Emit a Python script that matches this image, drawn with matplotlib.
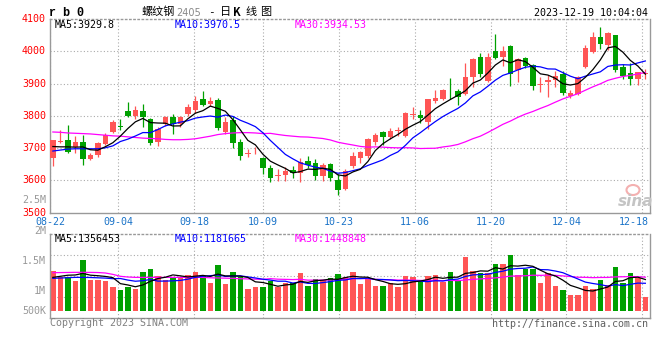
import numpy as np
import pandas as pd
import matplotlib
matplotlib.use("Agg")
import matplotlib.pyplot as plt
from matplotlib.patches import Ellipse

# ---------------- data ----------------
tick_labels = ["08-22", "09-04", "09-18", "10-09", "10-23", "11-06", "11-20", "12-04", "12-18"]
tick_index = [0, 9, 19, 28, 38, 48, 58, 68, 78]

opens = [3670, 3720, 3724, 3703, 3719, 3665, 3680, 3713, 3751, 3770,
         3814, 3798, 3816, 3790, 3720, 3776, 3795, 3776, 3807, 3819,
         3852, 3836, 3849, 3751, 3786, 3718, 3682, 3690, 3670, 3640,
         3615, 3617, 3632, 3622, 3660, 3653, 3614, 3650, 3602, 3573,
         3645, 3670, 3676, 3718, 3749, 3734, 3753, 3739, 3802, 3803,
         3780, 3846, 3851, 3875, 3877, 3867, 3919, 3982, 3909, 4000,
         3982, 4017, 3941, 3978, 3957, 3897, 3904, 3911, 3931, 3861,
         3867, 3952, 3998, 4043, 4019, 4049, 3952, 3932, 3915, 3930]
highs = [3726, 3756, 3771, 3737, 3742, 3684, 3720, 3747, 3786, 3790,
         3842, 3829, 3838, 3792, 3764, 3800, 3807, 3799, 3836, 3862,
         3878, 3857, 3854, 3795, 3800, 3727, 3696, 3703, 3672, 3647,
         3635, 3643, 3645, 3670, 3676, 3665, 3655, 3655, 3619, 3635,
         3688, 3691, 3732, 3747, 3752, 3762, 3767, 3813, 3828, 3818,
         3853, 3879, 3884, 3917, 3884, 3965, 3980, 3995, 3995, 4053,
         4015, 4020, 3978, 3982, 3962, 3919, 3927, 3939, 3939, 3881,
         3924, 4021, 4059, 4076, 4060, 4050, 3960, 3965, 3936, 3944]
lows = [3644, 3716, 3686, 3686, 3647, 3662, 3673, 3711, 3747, 3755,
        3796, 3790, 3766, 3709, 3706, 3770, 3745, 3764, 3800, 3810,
        3831, 3831, 3755, 3743, 3701, 3663, 3672, 3681, 3619, 3596,
        3597, 3599, 3609, 3594, 3640, 3602, 3599, 3599, 3555, 3571,
        3640, 3655, 3670, 3711, 3711, 3727, 3737, 3733, 3790, 3778,
        3758, 3840, 3848, 3851, 3833, 3864, 3890, 3919, 3905, 3977,
        3955, 3894, 3904, 3948, 3881, 3874, 3859, 3889, 3864, 3854,
        3864, 3948, 3995, 4006, 4005, 3935, 3915, 3895, 3895, 3914]
closes = [3724, 3723, 3688, 3719, 3665, 3680, 3716, 3742, 3781, 3767,
          3798, 3819, 3795, 3717, 3760, 3795, 3776, 3797, 3826, 3847,
          3834, 3847, 3761, 3782, 3717, 3676, 3684, 3692, 3637, 3609,
          3618, 3630, 3623, 3657, 3647, 3614, 3647, 3607, 3571, 3630,
          3676, 3688, 3727, 3742, 3735, 3752, 3755, 3808, 3805, 3792,
          3851, 3856, 3881, 3873, 3857, 3921, 3975, 3929, 3982, 3980,
          4000, 3931, 3975, 3955, 3891, 3899, 3912, 3924, 3871, 3871,
          3921, 4010, 4043, 4022, 4058, 3942, 3922, 3915, 3935, 3932]
volumes = [1328000, 1222000, 1222000, 1161000, 1511000, 1178000, 1178000, 1161000, 1061000, 1011000,
           1067000, 1028000, 1311000, 1361000, 1244000, 1178000, 1222000, 1233000, 1267000, 1311000,
           1244000, 1133000, 1428000, 1117000, 1311000, 1222000, 1028000, 1061000, 1061000, 1161000,
           1061000, 1133000, 1122000, 1300000, 1078000, 1200000, 1178000, 1211000, 1278000, 1228000,
           1311000, 1111000, 1194000, 1078000, 1078000, 1122000, 1061000, 1244000, 1228000, 1150000,
           1244000, 1261000, 1150000, 1311000, 1161000, 1561000, 1328000, 1289000, 1289000, 1450000,
           1450000, 1600000, 1261000, 1361000, 1361000, 1128000, 1300000, 1078000, 1011000, 928000,
           928000, 1078000, 1028000, 1178000, 1094000, 1394000, 1133000, 1294000, 1211000, 900000]

# moving-average values at the start of the window (history before 08-22 is not shown)
ma5_head = [3705, 3704, 3704, 3703]
ma10_head = [3691, 3694, 3697, 3698, 3698, 3698, 3698, 3701, 3707]
ma30_head = [3750, 3749, 3747, 3746, 3745, 3744, 3742, 3740, 3738, 3737,
             3735, 3733, 3731, 3730, 3729, 3727, 3726, 3726, 3727, 3729,
             3733, 3737, 3742, 3745, 3747, 3748, 3748, 3747, 3745]
vma5_head = [1222000, 1240000, 1258000, 1262000]
vma10_head = [1206000, 1211000, 1217000, 1222000, 1222000, 1220000, 1215000, 1210000, 1200000]
vma30_head = [1300000, 1302000, 1304000, 1306000, 1306000, 1305000, 1303000, 1295000, 1272000, 1240000,
              1228000, 1222000, 1222000, 1222000, 1222000, 1222000, 1222000, 1222000, 1222000, 1222000,
              1222000, 1215000, 1212000, 1209000, 1206000, 1200000, 1196000, 1192000, 1189000]

price_ticks = [3500, 3600, 3700, 3800, 3900, 4000, 4100]
price_grid = [3600, 3700, 3800, 3900, 4000]
vol_labels = ["2M", "1.5M", "1M", "500K"]
vol_label_values = [2000000, 1500000, 1000000, 667000]

ma_price_labels = ["MA5:3929.8", "MA10:3970.5", "MA30:3934.53"]
ma_vol_labels = ["MA5:1356453", "MA10:1181665", "MA30:1448848"]
title_time = "2023-12-19 10:04:04"

# ---------------- helpers ----------------
def with_head(values, n, head):
    s = pd.Series(values, dtype=float).rolling(n).mean()
    s.iloc[:len(head)] = head
    return s.values

o = np.array(opens, float); h = np.array(highs, float)
l = np.array(lows, float); c = np.array(closes, float)
v = np.array(volumes, float)
N = len(c)
idx = np.arange(N)
BW = 0.76
xc = idx + BW / 2

RED = "#FF5555"
GREEN = "#00A000"
GRID = "#aaaaaa"
SPINE = "#999999"
MONO = "DejaVu Sans Mono"
up = c >= o
cols = np.where(up, RED, GREEN)

W, H = 660, 360
def fx(x): return x / W
def fy(y): return 1 - y / H

fig = plt.figure(figsize=(6.6, 3.6), dpi=100)
fig.patch.set_facecolor("white")
ax = fig.add_axes([fx(50), fy(212.7), 600 / W, (212.7 - 19) / H])
ax2 = fig.add_axes([fx(50), fy(318.3), 600 / W, (318.3 - 234.3) / H])

grid_x = np.array(tick_index) * N / (N - 1)
dots = (0, (1, 2))

for a in (ax, ax2):
    a.set_xlim(0, N)
    a.set_xticks(grid_x)
    a.tick_params(length=0, labelleft=False, labelbottom=False)
    for sp in a.spines.values():
        sp.set_color(SPINE)
        sp.set_linewidth(1)
    a.spines["top"].set_linestyle(dots)
    a.set_axisbelow(True)

# ---- price panel ----
ax.set_ylim(3500, 4100)
ax.set_yticks(price_grid)
ax.grid(True, linestyle=dots, color=GRID, linewidth=0.8)

ax.vlines(xc, l, h, colors=cols, linewidth=0.9, zorder=2)
body_h = np.abs(c - o)
mid = (c + o) / 2
bh = np.maximum(body_h, 2.8)
ax.bar(idx, bh, bottom=mid - bh / 2, width=BW, align="edge", color=cols, linewidth=0, zorder=3)

ma5 = with_head(closes, 5, ma5_head)
ma10 = with_head(closes, 10, ma10_head)
ma30 = with_head(closes, 30, ma30_head)
ax.plot(xc, ma30, color="#FF00FF", lw=0.9, zorder=4)
ax.plot(xc, ma10, color="#0000FF", lw=0.9, zorder=5)
ax.plot(xc, ma5, color="black", lw=0.9, zorder=6)

for val in price_ticks:
    ax.text(-4 / 600, val, str(val), transform=ax.get_yaxis_transform(), ha="right", va="center",
            color="#FF0000", fontsize=7.2, family=MONO, clip_on=False)
ax.text(-4 / 600, 0.066, "2.5M", transform=ax.transAxes, ha="right", va="center",
        color="#999999", fontsize=7.2, family=MONO)

# ---- volume panel ----
ax2.set_ylim(540000, 1940000)
ax2.set_yticks([])
for f in (0.25, 0.5, 0.75):
    ax2.axhline(540000 + f * 1400000, color=GRID, linestyle=dots, linewidth=0.8, zorder=0)
ax2.grid(True, axis="x", linestyle=dots, color=GRID, linewidth=0.8)
VOL_BASE = 667000
ax2.bar(idx, v - VOL_BASE, bottom=VOL_BASE, width=BW, align="edge", color=cols, linewidth=0, zorder=2)
vma5 = with_head(volumes, 5, vma5_head)
vma10 = with_head(volumes, 10, vma10_head)
vma30 = with_head(volumes, 30, vma30_head)
ax2.plot(xc, vma30, color="#FF00FF", lw=0.9, zorder=4)
ax2.plot(xc, vma10, color="#0000FF", lw=0.9, zorder=5)
ax2.plot(xc, vma5, color="black", lw=0.9, zorder=6)
for lab, val in zip(vol_labels, vol_label_values):
    ax2.text(-4 / 600, val, lab, transform=ax2.get_yaxis_transform(), ha="right", va="center",
             color="#999999", fontsize=7.2, family=MONO, clip_on=False)

# ---- date labels ----
for k, (gx, lab) in enumerate(zip(grid_x, tick_labels)):
    px = 50 + gx * 600 / N
    if k == len(tick_labels) - 1:
        fig.text(fx(649), fy(221.7), lab, ha="right", va="center", color="#1a73c8", fontsize=7.2, family=MONO)
    else:
        fig.text(fx(px), fy(221.7), lab, ha="center", va="center", color="#1a73c8", fontsize=7.2, family=MONO)

# ---- MA label rows ----
for lab, x0, col in zip(ma_price_labels, [54.3, 174.3, 295], ["black", "#0000FF", "#FF00FF"]):
    fig.text(fx(x0), fy(24.5), lab, ha="left", va="center", color=col, fontsize=7.2, family=MONO)
for lab, x0, col in zip(ma_vol_labels, [54.3, 174.3, 295], ["black", "#0000FF", "#FF00FF"]):
    fig.text(fx(x0), fy(238.8), lab, ha="left", va="center", color=col, fontsize=7.2, family=MONO)

# ---- titles ----
fig.text(fx(49), fy(12.5), "r b 0", ha="left", va="center", color="black", fontsize=8.5,
         family="Liberation Mono", fontweight="bold")
CJK = ["Noto Sans CJK SC", "DejaVu Sans"]
fig.text(fx(141.5), fy(12), "螺纹钢", ha="left", va="center", color="black", fontsize=8, family=CJK)
fig.text(fx(176.5), fy(12.5), "2405", ha="left", va="center", color="#888888", fontsize=7, family="DejaVu Sans")
fig.text(fx(208), fy(12), "-", ha="left", va="center", color="black", fontsize=8, family=MONO)
for ch, x0 in zip(["日", "K", "线", "图"], [220, 233, 245, 260]):
    fig.text(fx(x0), fy(12), ch, ha="left", va="center", color="black", fontsize=8, family=CJK,
             fontweight="bold" if ch == "K" else "normal")
fig.text(fx(648), fy(12.5), title_time, ha="right", va="center", color="black", fontsize=7.2, family=MONO)

# ---- footer ----
fig.text(fx(50), fy(323.5), "Copyright 2023 SINA.COM", ha="left", va="center", color="#808080",
         fontsize=7.2, family=MONO)
fig.text(fx(648), fy(324), "http://finance.sina.com.cn", ha="right", va="center", color="#606060",
         fontsize=7.2, family=MONO)

# ---- sina watermark ----
fig.text(fx(636), fy(201), "sina", ha="center", va="center", color="#c4c4c4", fontsize=11,
         fontstyle="italic", fontweight="bold", family="DejaVu Sans")
fig.add_artist(Ellipse((6.33, (360 - 190) / 100), 0.13, 0.1, transform=fig.dpi_scale_trans,
                       facecolor="none", edgecolor="#f4b0b0", linewidth=1.5))

fig.savefig("out.png", dpi=100, facecolor="white")
